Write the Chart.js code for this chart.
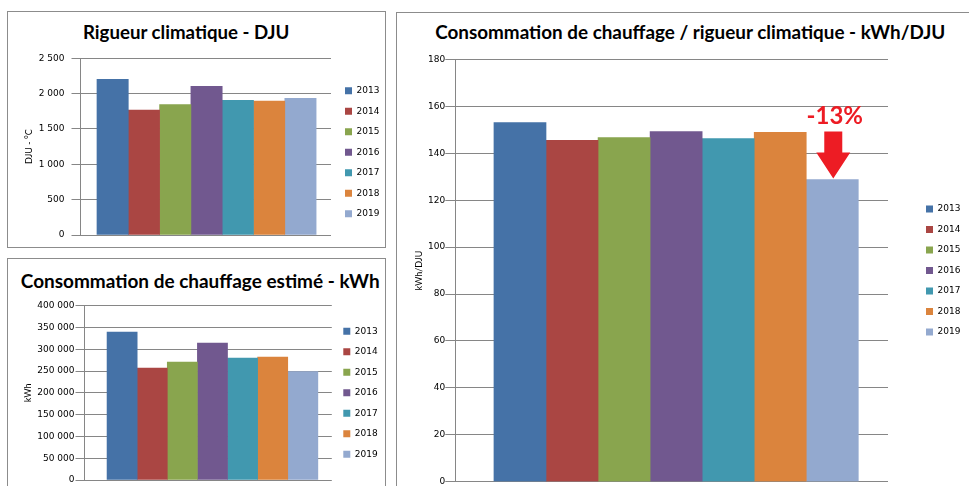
<!DOCTYPE html>
<html>
<head>
<meta charset="utf-8">
<script src="https://cdn.jsdelivr.net/npm/chart.js@4.4.0/dist/chart.umd.min.js"></script>
<style>
  html, body { margin: 0; padding: 0; background: #fff; }
  body { width: 969px; height: 486px; overflow: hidden; position: relative; }
  .panel { position: absolute; box-sizing: border-box; border: 1px solid #8c8c8c; background: #fff; }
  .title { position: absolute; font-family: Lato, sans-serif; font-weight: bold; white-space: nowrap; line-height: 1; color: #000; }
  canvas { position: absolute; }
</style>
</head>
<body>
<div class="panel" style="left:7px;top:11px;width:379px;height:237px"></div>
<div class="panel" style="left:7px;top:258px;width:379px;height:300px"></div>
<div class="panel" style="left:396px;top:12px;width:620px;height:520px"></div>
<script>
// data
const years = ['2013', '2014', '2015', '2016', '2017', '2018', '2019'];
const yearColors = ['#4572A7', '#AA4643', '#89A54E', '#71588F', '#4198AF', '#DB843D', '#93A9CF'];

const djuValues = [2203, 1766, 1846, 2105, 1907, 1893, 1935];
const kwhValues = [339600, 257000, 270700, 314300, 279900, 282200, 248600];
const ratioValues = [153.1, 145.5, 146.7, 149.3, 146.3, 148.9, 128.8];

const djuTicks = [0, 500, 1000, 1500, 2000, 2500];
const kwhTicks = [0, 50000, 100000, 150000, 200000, 250000, 300000, 350000, 400000];
const ratioTicks = [0, 20, 40, 60, 80, 100, 120, 140, 160, 180];

const chartTitles = [
  'Rigueur climatique - DJU',
  'Consommation de chauffage estimé - kWh',
  'Consommation de chauffage / rigueur climatique - kWh/DJU'
];
const axisTitles = ['DJU - °C', 'kWh', 'kWh/DJU'];
const dropLabel = '-13%';

const GRID = '#868686';
const TICK_FONT = { family: 'DejaVu Sans', size: 9 };
const LEGEND_FONT = { family: 'DejaVu Sans', size: 9 };
const LEGEND_PAD = 11.5;
const BOX = 7;

Chart.defaults.font.family = 'DejaVu Sans';

function fmt(v) {
  return String(v).replace(/\B(?=(\d{3})+(?!\d))/g, ' ');
}

const measure = document.createElement('canvas').getContext('2d');

function placeTitle(text, cx, cy, width) {
  measure.font = 'bold 100px Lato';
  const size = 100 * width / measure.measureText(text).width;
  const el = document.createElement('div');
  el.className = 'title';
  el.textContent = text;
  el.style.fontSize = size + 'px';
  el.style.left = (cx - width / 2) + 'px';
  el.style.top = (cy - 0.53 * size) + 'px';
  document.body.appendChild(el);
}

function legendWidth() {
  measure.font = LEGEND_FONT.size + 'px ' + LEGEND_FONT.family;
  const w = Math.max(...years.map(t => measure.measureText(t).width));
  return LEGEND_PAD + BOX + LEGEND_FONT.size / 2 + w + 10;
}

// arrow and label above the last bar
const dropArrow = {
  id: 'dropArrow',
  afterDatasetsDraw(chart) {
    const bar = chart.getDatasetMeta(years.length - 1).data[0];
    const ctx = chart.ctx;
    const x = bar.x + 1, tip = bar.y - 1;
    ctx.save();
    ctx.fillStyle = '#ED1C24';
    ctx.beginPath();
    ctx.moveTo(x - 9, tip - 47);
    ctx.lineTo(x + 9, tip - 47);
    ctx.lineTo(x + 9, tip - 26);
    ctx.lineTo(x + 17, tip - 26);
    ctx.lineTo(x, tip);
    ctx.lineTo(x - 17, tip - 26);
    ctx.lineTo(x - 9, tip - 26);
    ctx.closePath();
    ctx.fill();
    ctx.font = 'bold 24px Lato';
    ctx.textAlign = 'center';
    ctx.textBaseline = 'middle';
    ctx.fillText(dropLabel, x + 1.5, tip - 62);
    ctx.restore();
  }
};

function makeChart(s) {
  const L = s.yTitleX - 10;
  const lw = legendWidth();
  const legendLeft = s.legendX - LEGEND_PAD;
  const R = Math.ceil(legendLeft + lw) + 2;

  const canvas = document.createElement('canvas');
  canvas.width = R - L;
  canvas.height = s.bottom - s.top;
  canvas.style.left = L + 'px';
  canvas.style.top = s.top + 'px';
  document.body.appendChild(canvas);

  const ticks = s.ticks;
  const plotWidth = s.areaRight - s.axisX;
  // the bar group sits a little right of the plot centre, as in the original
  const shift = s.groupShift / plotWidth;
  const barWidth = plotWidth * s.groupWidth / years.length;
  new Chart(canvas, {
    type: 'bar',
    data: {
      datasets: years.map((y, i) => ({
        label: y,
        data: [{ x: 0, y: s.values[i] }],
        backgroundColor: yearColors[i],
        borderWidth: 0,
        barThickness: barWidth
      }))
    },
    options: {
      responsive: false,
      animation: false,
      layout: {
        padding: {
          left: 0,
          right: R - legendLeft - lw,
          top: s.areaTop - s.top,
          bottom: s.bottom - s.areaBottom
        }
      },
      plugins: {
        tooltip: { enabled: false },
        legend: {
          position: 'right',
          align: 'center',
          fullSize: false,
          labels: { boxWidth: BOX, boxHeight: BOX, padding: LEGEND_PAD, color: '#000', font: LEGEND_FONT },
          title: s.legendShift
            ? { display: true, text: '', font: { size: 1 }, padding: { top: 0, bottom: s.legendShift - 1.2 } }
            : { display: false }
        }
      },
      scales: {
        x: {
          type: 'linear',
          display: false,
          min: -0.5 - shift,
          max: 0.5 - shift
        },
        y: {
          min: ticks[0],
          max: ticks[ticks.length - 1],
          ticks: { stepSize: ticks[1] - ticks[0], callback: v => fmt(v), font: TICK_FONT, color: '#000', padding: s.tickPad },
          grid: { color: GRID, tickLength: s.tickLen },
          border: { color: GRID },
          title: {
            display: true,
            text: s.axisTitle,
            color: '#000',
            font: { family: 'Lato', size: 9 },
            padding: { top: 10 - 5.4, bottom: 0 }
          },
          afterFit: sc => { sc.width = s.axisX - L; }
        },
        y2: {
          position: 'right',
          grid: { display: false },
          border: { display: false },
          ticks: { display: false },
          afterFit: sc => { sc.width = Math.max(0, legendLeft - s.areaRight); }
        }
      }
    },
    plugins: s.plugins || []
  });
}

placeTitle(chartTitles[0], 186.5, 33.3, 207);
placeTitle(chartTitles[1], 200.3, 281, 359);
placeTitle(chartTitles[2], 690.7, 33.5, 511);

makeChart({
  values: djuValues, ticks: djuTicks, axisTitle: axisTitles[0],
  top: 11, bottom: 248, areaTop: 58.3, areaBottom: 235,
  yTitleX: 28.5, axisX: 80, areaRight: 331, legendX: 345,
  tickLen: 9, tickPad: 7, groupWidth: 0.873, groupShift: 1, legendShift: 11.4
});

makeChart({
  values: kwhValues, ticks: kwhTicks, axisTitle: axisTitles[1],
  top: 258, bottom: 492, areaTop: 305.7, areaBottom: 480,
  yTitleX: 27.5, axisX: 84, areaRight: 332, legendX: 343.3,
  tickLen: 9, tickPad: 1, groupWidth: 0.85, groupShift: 5.4
});

makeChart({
  values: ratioValues, ticks: ratioTicks, axisTitle: axisTitles[2],
  top: 12, bottom: 494, areaTop: 59.5, areaBottom: 481.7,
  yTitleX: 419, axisX: 455.3, areaRight: 888, legendX: 926,
  tickLen: 10, tickPad: 0, groupWidth: 0.842, groupShift: 5.6,
  plugins: [dropArrow]
});
</script>
</body>
</html>
